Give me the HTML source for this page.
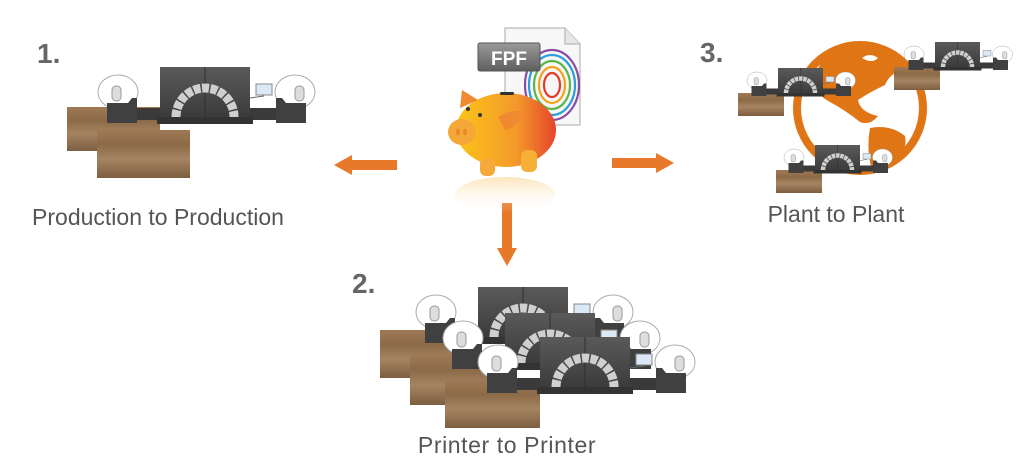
<!DOCTYPE html>
<html><head><meta charset="utf-8"><style>
html,body{margin:0;padding:0;background:#fff;}
svg{display:block;font-family:"Liberation Sans",sans-serif;}
</style></head><body>
<svg width="1017" height="463" viewBox="0 0 1017 463" xmlns="http://www.w3.org/2000/svg">
<defs>
<linearGradient id="wood" x1="0" y1="0" x2="0" y2="1">
<stop offset="0" stop-color="#a07a55"/><stop offset="0.3" stop-color="#8c6a48"/><stop offset="0.6" stop-color="#a58462"/><stop offset="1" stop-color="#7d5e40"/>
</linearGradient>
<linearGradient id="cab" x1="0" y1="0" x2="0" y2="1">
<stop offset="0" stop-color="#5a5a5a"/><stop offset="1" stop-color="#3a3a3a"/>
</linearGradient>
<linearGradient id="pig" x1="0" y1="0" x2="1" y2="0">
<stop offset="0" stop-color="#fcc418"/><stop offset="0.6" stop-color="#f39a2a"/><stop offset="1" stop-color="#e5452a"/>
</linearGradient>
<linearGradient id="fpf" x1="0" y1="0" x2="0" y2="1">
<stop offset="0" stop-color="#9a9a9a"/><stop offset="1" stop-color="#5e5e5e"/>
</linearGradient>
<linearGradient id="refl" x1="0" y1="0" x2="0" y2="1">
<stop offset="0" stop-color="#fbd9a0" stop-opacity="0.7"/><stop offset="1" stop-color="#fff" stop-opacity="0"/>
</linearGradient>
<g id="printer">
<ellipse cx="118" cy="92" rx="20" ry="17" fill="#fff" stroke="#aaa" stroke-width="1"/>
<rect x="112" y="86" width="9" height="15" rx="4" fill="#ddd" stroke="#999"/>
<ellipse cx="295" cy="92" rx="20" ry="17" fill="#fff" stroke="#aaa" stroke-width="1"/>
<rect x="295" y="86" width="9" height="15" rx="4" fill="#ddd" stroke="#999"/>
<rect x="135" y="108" width="30" height="12" fill="#3a3a3a"/>
<rect x="248" y="108" width="30" height="12" fill="#3a3a3a"/>
<path d="M107 103 L128 103 L132 98 L137 98 L137 123 L107 123 Z" fill="#404040"/>
<path d="M276 98 L282 98 L286 103 L306 103 L306 123 L276 123 Z" fill="#404040"/>
<rect x="160" y="67" width="90" height="52" fill="url(#cab)"/>
<line x1="205" y1="67" x2="205" y2="119" stroke="#2e2e2e"/>
<rect x="157" y="117" width="96" height="7" fill="#333"/>
<path d="M176 117 A29 29 0 0 1 234 117" fill="none" stroke="#cfcfcf" stroke-width="9" stroke-dasharray="7 1.5"/>
<rect x="256" y="84" width="16" height="11" fill="#dbe9f7" stroke="#888"/>
<line x1="250" y1="98" x2="264" y2="96" stroke="#666"/>
</g>
</defs>

<!-- Group 1 -->
<text x="37" y="63" font-size="28" font-weight="bold" fill="#666">1.</text>
<rect x="67" y="107" width="93" height="44" fill="url(#wood)"/>
<rect x="97" y="130" width="93" height="48" fill="url(#wood)"/>
<use href="#printer"/>
<text x="158" y="225" font-size="23" fill="#555" text-anchor="middle">Production to Production</text>

<!-- Arrows -->
<rect x="350" y="160" width="47" height="10" fill="#e8782a"/>
<polygon points="334,165 352,155 352,175" fill="#e8782a"/>
<rect x="612" y="158" width="47" height="10" fill="#e8782a"/>
<polygon points="674,163 656,153 656,173" fill="#e8782a"/>
<rect x="502" y="203" width="10" height="47" fill="#e8782a"/>
<polygon points="507,266 497,248 517,248" fill="#e8782a"/>

<!-- Piggy / FPF -->
<ellipse cx="505" cy="195" rx="50" ry="18" fill="url(#refl)"/>
<path d="M505 28 L565 28 L580 44 L580 125 L505 125 Z" fill="#f7f7f7" stroke="#aaa"/>
<path d="M565 28 L565 44 L580 44" fill="#e6e6e6" stroke="#aaa"/>
<g fill="none" stroke-width="2.2">
<ellipse cx="552" cy="85" rx="8" ry="12" stroke="#e23a2a"/>
<ellipse cx="552" cy="85" rx="13" ry="18" stroke="#f2a21c"/>
<ellipse cx="552" cy="85" rx="18" ry="24" stroke="#5ab54a"/>
<ellipse cx="552" cy="85" rx="23" ry="30" stroke="#2a9ed8"/>
<ellipse cx="552" cy="85" rx="27" ry="35" stroke="#8a4aa8"/>
</g>
<rect x="478" y="43" width="62" height="28" rx="2" fill="url(#fpf)" stroke="#555"/>
<text x="509" y="65" font-size="19" font-weight="bold" fill="#fff" text-anchor="middle">FPF</text>
<ellipse cx="506" cy="130" rx="50" ry="37" fill="url(#pig)"/>
<polygon points="460,108 462,90 478,100" fill="#f08a30"/>
<path d="M498 117 Q512 108 522 112 Q518 128 505 130 Z" fill="#f08a30"/>
<rect x="500" y="92" width="14" height="3" rx="1.5" fill="#333"/>
<circle cx="468" cy="109" r="2" fill="#333"/><circle cx="480" cy="115" r="2" fill="#333"/>
<ellipse cx="462" cy="132" rx="14" ry="13" fill="#f5a838"/>
<ellipse cx="458" cy="132" rx="2" ry="3.5" fill="#e88a28"/><ellipse cx="465" cy="132" rx="2" ry="3.5" fill="#e88a28"/>
<rect x="480" y="158" width="15" height="18" rx="6" fill="#f6a838"/>
<rect x="521" y="150" width="16" height="22" rx="6" fill="#f6b038"/>

<!-- Group 2 -->
<text x="352" y="293" font-size="28" font-weight="bold" fill="#666">2.</text>
<rect x="380" y="330" width="90" height="48" fill="url(#wood)"/>
<use href="#printer" transform="translate(318,220)"/>
<rect x="410" y="355" width="90" height="50" fill="url(#wood)"/>
<use href="#printer" transform="translate(345,246)"/>
<rect x="445" y="380" width="95" height="48" fill="url(#wood)"/>
<use href="#printer" transform="translate(380,270)"/>
<text x="507" y="453" font-size="23" fill="#555" text-anchor="middle" letter-spacing="0.6">Printer to Printer</text>

<!-- Group 3 -->
<text x="700" y="62" font-size="28" font-weight="bold" fill="#666">3.</text>
<circle cx="860" cy="108" r="63" fill="#fff" stroke="#e07516" stroke-width="8"/>
<path d="M825 58 Q850 44 880 48 Q900 55 905 70 Q890 72 885 85 Q870 92 858 100 Q860 112 878 116 Q870 126 860 122 Q845 110 830 102 Q815 94 812 82 Q818 66 825 58 Z" fill="#e07516"/>
<path d="M870 128 Q890 124 905 136 Q908 150 895 160 Q885 172 872 170 Q866 150 870 128 Z" fill="#e07516"/>
<path d="M862 58 Q870 52 878 58 Q872 64 862 58 Z" fill="#fff"/>
<rect x="738" y="93" width="46" height="23" fill="url(#wood)"/>
<use href="#printer" transform="translate(698,34.5) scale(0.5)"/>
<rect x="894" y="67" width="46" height="23" fill="url(#wood)"/>
<use href="#printer" transform="translate(855,8.5) scale(0.5)"/>
<rect x="776" y="170" width="46" height="23" fill="url(#wood)"/>
<use href="#printer" transform="translate(735,111.5) scale(0.5)"/>
<text x="836" y="222" font-size="23" fill="#555" text-anchor="middle">Plant to Plant</text>
</svg>
</body></html>
